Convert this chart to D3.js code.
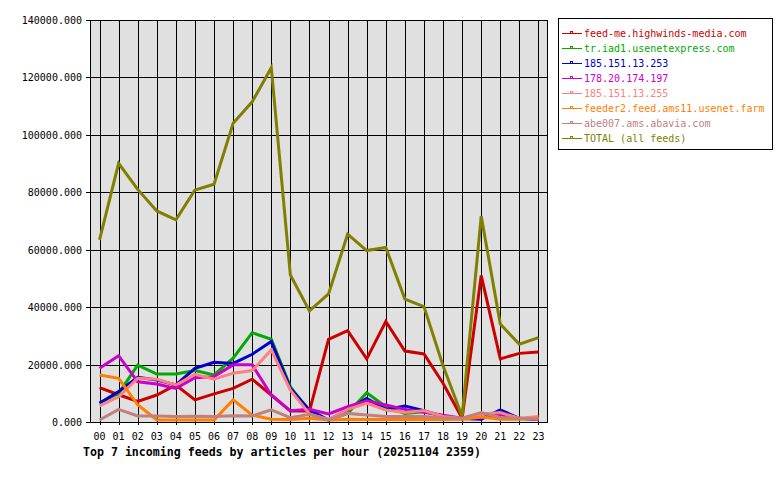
<!DOCTYPE html>
<html>
<head>
<meta charset="utf-8">
<style>
body { margin:0; background:#fff; }
svg text { font-family: "DejaVu Sans Mono", "Liberation Mono", monospace; }
</style>
</head>
<body>
<svg id="chart"></svg>
<script src="https://d3js.org/d3.v7.min.js"></script>
<script>

var hours = ["00","01","02","03","04","05","06","07","08","09","10","11",
             "12","13","14","15","16","17","18","19","20","21","22","23"];

var yTicks = [0, 20000, 40000, 60000, 80000, 100000, 120000, 140000];

var feedNames = ["feed-me.highwinds-media.com", "tr.iad1.usenetexpress.com",
  "185.151.13.253", "178.20.174.197", "185.151.13.255",
  "feeder2.feed.ams11.usenet.farm", "abe007.ams.abavia.com", "TOTAL (all feeds)"];

var feedColors = ["#cc0000", "#00aa00", "#0000cc", "#cc00cc", "#ff8080", "#ff8000", "#c08080", "#808000"];

var feedMe   = [12000, 9500, 7200, 9400, 12900, 7700, 9800, 11700, 14900, 9400, 3800, 3800,
                28800, 31800, 22000, 35000, 24700, 23700, 13500, 1300, 51000, 22000, 23900, 24400];
var trIad1   = [6700, 10000, 19800, 16700, 16700, 17900, 16400, 22200, 31100, 28800, 12300, 3500,
                700, 3000, 10200, 5300, 3000, 3600, 2000, 1200, 1500, 2500, 1200, 1000];
var ip253    = [6500, 10600, 15600, 14600, 12900, 18700, 20800, 20400, 23600, 28000, 11700, 4200,
                700, 4400, 8200, 4400, 5600, 3900, 2000, 1200, 1000, 4200, 1300, 1000];
var ip197    = [18700, 23100, 14000, 13200, 11700, 15400, 15800, 19900, 19900, 9400, 3900, 4400,
                2800, 5300, 7400, 5900, 4400, 3400, 2400, 1300, 1500, 2800, 1300, 1000];
var ip255    = [5600, 8800, 15200, 14900, 12900, 16600, 14900, 17000, 17900, 25100, 11100, 2800,
                900, 4400, 6500, 4200, 3300, 4000, 1900, 1300, 2800, 3300, 1300, 1900];
var feeder2  = [16400, 15200, 6000, 700, 700, 700, 700, 7700, 2400, 1000, 900, 1300,
                700, 1000, 900, 900, 900, 900, 900, 1000, 1700, 1000, 1000, 1300];
var abe007   = [700, 4400, 2100, 2100, 1900, 2000, 1900, 2200, 2100, 4200, 1500, 2700,
                700, 3000, 2400, 1900, 1900, 1900, 1500, 1300, 3300, 1600, 1300, 1000];
var total    = [63400, 90100, 81000, 73500, 70400, 80800, 82800, 104000, 111500, 123400, 51200, 38700,
                44600, 65400, 59700, 60800, 42800, 40200, 19600, 2000, 71700, 34100, 27100, 29400];

var series = [feedMe, trIad1, ip253, ip197, ip255, feeder2, abe007, total];

var W = 780, H = 480;
var plotLeft = 90, plotRight = 548, plotTop = 20, plotBottom = 422;

var svg = d3.select("#chart").attr("width", W).attr("height", H);

var x = d3.scaleBand().domain(hours).range([plotLeft, plotRight]);
var y = d3.scaleLinear().domain([0, 140000]).range([plotBottom, plotTop]);
function cx(h) { return x(h) + x.bandwidth() / 2; }

// plot background
svg.append("rect")
  .attr("x", plotLeft).attr("y", plotTop)
  .attr("width", plotRight - plotLeft).attr("height", plotBottom - plotTop)
  .attr("fill", "#e0e0e0");

// grid
svg.selectAll(".hgrid").data(yTicks).enter().append("line")
  .attr("x1", plotLeft - 4).attr("x2", plotRight)
  .attr("y1", function(d) { return Math.round(y(d)) + 0.5; })
  .attr("y2", function(d) { return Math.round(y(d)) + 0.5; })
  .attr("stroke", "#000").attr("stroke-width", 1);

svg.selectAll(".vgrid").data(hours).enter().append("line")
  .attr("x1", function(d) { return Math.round(cx(d)) + 0.5; })
  .attr("x2", function(d) { return Math.round(cx(d)) + 0.5; })
  .attr("y1", plotTop).attr("y2", plotBottom + 3)
  .attr("stroke", "#000").attr("stroke-width", 1);

svg.append("rect")
  .attr("x", plotLeft + 0.5).attr("y", plotTop + 0.5)
  .attr("width", plotRight - plotLeft - 1).attr("height", plotBottom - plotTop)
  .attr("fill", "none").attr("stroke", "#000");

// y labels
svg.selectAll(".ylab").data(yTicks).enter().append("text")
  .attr("x", 82).attr("y", function(d) { return y(d) + 4; })
  .attr("text-anchor", "end").attr("font-size", 10).attr("fill", "#000")
  .text(function(d) { return d3.format(".3f")(d); });

// x labels
svg.selectAll(".xlab").data(hours).enter().append("text")
  .attr("x", function(d) { return cx(d); }).attr("y", 439.5)
  .attr("text-anchor", "middle").attr("font-size", 10).attr("fill", "#000")
  .text(function(d) { return d; });

// title
svg.append("text")
  .attr("x", 83).attr("y", 456)
  .attr("font-size", 11.6).attr("font-weight", "bold").attr("fill", "#000")
  .text("Top 7 incoming feeds by articles per hour (20251104 2359)");

// lines
var line = d3.line()
  .x(function(d, i) { return cx(hours[i]); })
  .y(function(d) { return y(d); });

series.forEach(function(s, i) {
  svg.append("path")
    .attr("d", line(s))
    .attr("fill", "none")
    .attr("stroke", feedColors[i])
    .attr("stroke-width", 3)
    .attr("stroke-linejoin", "miter");
});

// legend
svg.append("rect")
  .attr("x", 558.5).attr("y", 18.5).attr("width", 214).attr("height", 131)
  .attr("fill", "#fff").attr("stroke", "#000");

var leg = svg.selectAll(".leg").data(feedNames).enter().append("g")
  .attr("transform", function(d, i) { return "translate(0," + (33 + i * 15) + ")"; });

leg.append("line")
  .attr("x1", 562).attr("x2", 582).attr("y1", 0.5).attr("y2", 0.5)
  .attr("stroke", function(d, i) { return feedColors[i]; });
leg.append("rect")
  .attr("x", 570.5).attr("y", -1.5).attr("width", 2).attr("height", 2)
  .attr("fill", "none")
  .attr("stroke", function(d, i) { return feedColors[i]; });
leg.append("text")
  .attr("x", 584).attr("y", 4)
  .attr("font-size", 10)
  .attr("fill", function(d, i) { return feedColors[i]; })
  .text(function(d) { return d; });

</script>
</body>
</html>
